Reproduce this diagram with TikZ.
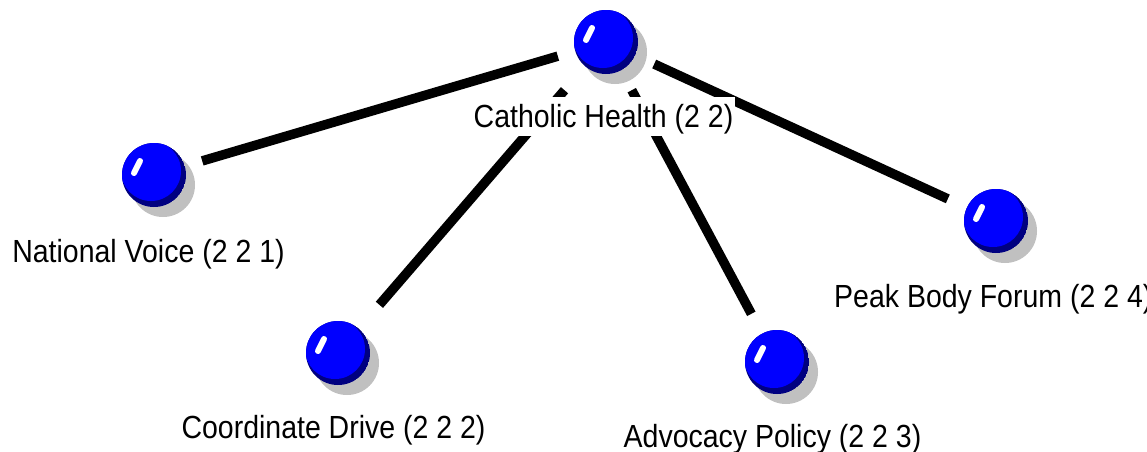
\documentclass[tikz,border=0pt]{standalone}
\usepackage{fontspec}
\newfontfamily\lblfont{Liberation Sans}[FakeStretch=0.89]
\usetikzlibrary{calc,backgrounds}
\definecolor{shadowgray}{HTML}{C0C0C0}
\definecolor{sphnavy}{HTML}{000080}
\definecolor{sphblue}{HTML}{0000FF}
\begin{document}
\begin{tikzpicture}[x=1pt,y=-1pt,
  nodebox/.style={rectangle, minimum width=96pt, minimum height=96pt, inner sep=0pt},
  lbl/.style={fill=white, inner xsep=2pt, inner ysep=1.5pt, text height=29pt, text depth=7pt,
    font=\lblfont\fontsize{32}{36}\selectfont, anchor=base},
  link/.style={line width=9.5pt}]
\useasboundingbox (0,0) rectangle (1147,451);
% node boxes (sphere positions)
\node[nodebox] (ch) at (606,42) {};
\node[nodebox] (nv) at (154,175) {};
\node[nodebox] (cd) at (338,353) {};
\node[nodebox] (ap) at (777,362) {};
\node[nodebox] (pb) at (996,221) {};
% labels
\node[lbl] (chl) at (603.5,127) {Catholic Health (2 2)};
\node[lbl] (nvl) at (148.5,262) {National Voice (2 2 1)};
\node[lbl] (cdl) at (333.5,438) {Coordinate Drive (2 2 2)};
\node[lbl] (apl) at (772.5,447) {Advocacy Policy (2 2 3)};
\node[lbl, anchor=base west] (pbl) at (832,307) {Peak Body Forum (2 2 4)};
% connectors
\begin{scope}[on background layer]
\fill[white] (0,0) rectangle (1147,451);
\draw[link] (ch) -- (nv);
\draw[link] (ch) -- (cd);
\draw[link] (ch) -- (ap);
\draw[link] (ch) -- (pb);
\end{scope}
% spheres
\foreach \nd in {ch,nv,cd,ap,pb}{
  \fill[shadowgray] ($(\nd)+(9,10)$) circle (32pt);
  \begin{scope}
    \clip (\nd) circle (32pt);
    \fill[sphnavy] (\nd) circle (32pt);
    \fill[sphblue] ($(\nd)+(-3,-4)$) circle (30pt);
  \end{scope}
  \draw[white, line width=6pt, line cap=round] ($(\nd)+(-20,-2)$) -- ($(\nd)+(-14,-14)$);
}
\end{tikzpicture}
\end{document}
